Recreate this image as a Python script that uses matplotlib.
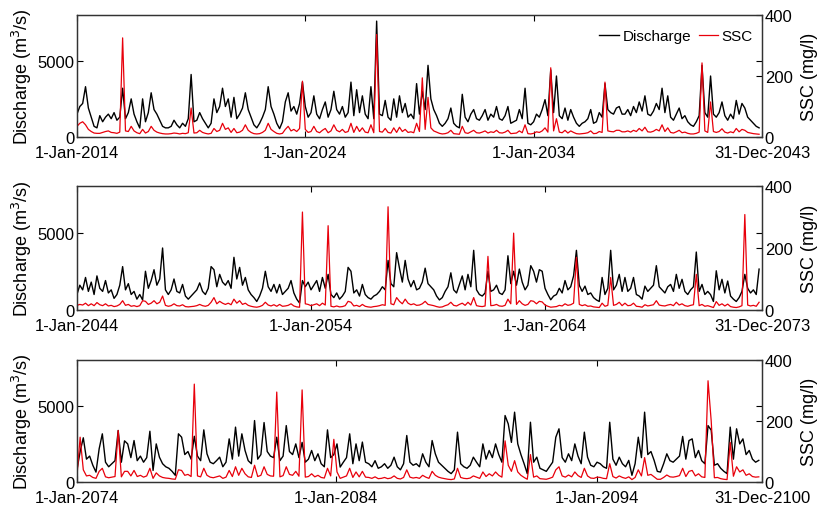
import numpy as np
import matplotlib
matplotlib.use("Agg")
import matplotlib.pyplot as plt

plt.rcParams['font.family'] = ['Liberation Sans', 'DejaVu Sans']

# values, 8 samples per year (rows = years)
# panel 1: 2014-2043
q1 = [[1500, 2000, 2200, 3300, 1900, 1300, 700, 600],
      [1400, 1000, 1300, 1500, 1200, 1600, 1100, 1300],
      [3200, 1200, 1600, 2500, 1500, 1000, 590, 2500],
      [1000, 1600, 2900, 1800, 1500, 1100, 700, 600],
      [600, 700, 1100, 800, 600, 900, 700, 1200],
      [4100, 1000, 1100, 1600, 1200, 900, 600, 900],
      [2500, 1600, 2000, 3200, 2000, 2500, 1300, 2600],
      [1200, 1500, 1900, 2900, 1800, 1300, 800, 600],
      [900, 1300, 1800, 3300, 2000, 1500, 900, 550],
      [1000, 2300, 2900, 1700, 2000, 1500, 2200, 3600],
      [2000, 1300, 1600, 2700, 1500, 1200, 1800, 2300],
      [1300, 1800, 3000, 1800, 1500, 2000, 1300, 1600],
      [3600, 1400, 3100, 1600, 2700, 1500, 1200, 3300],
      [1200, 7600, 1500, 1400, 2400, 1300, 1100, 2500],
      [1300, 2700, 1600, 2200, 1300, 1500, 1200, 3500],
      [1500, 3000, 1800, 4700, 2500, 1800, 1400, 900],
      [700, 900, 1200, 1900, 900, 700, 600, 2800],
      [1300, 1000, 1500, 1800, 1200, 1100, 1400, 1800],
      [1100, 1500, 1300, 2000, 1200, 1100, 1400, 2000],
      [900, 1000, 1100, 1800, 1200, 3200, 900, 800],
      [1000, 1500, 1300, 1800, 2450, 1400, 4400, 1600],
      [4000, 1400, 1200, 1900, 1100, 1800, 1300, 900],
      [700, 900, 1000, 1200, 1800, 900, 1000, 1600],
      [1300, 3500, 1800, 1600, 1500, 1900, 2000, 1500],
      [1500, 1800, 1400, 2000, 1600, 2300, 1700, 2700],
      [1500, 1400, 1700, 2200, 1800, 3200, 1600, 2700],
      [1300, 1100, 1500, 1900, 1200, 1400, 1000, 800],
      [700, 1000, 1400, 4700, 1600, 1300, 4000, 1500],
      [1300, 1600, 2300, 1400, 1100, 1500, 1200, 2400],
      [1500, 2200, 1900, 1300, 1100, 900, 700, 600]]
s1 = [[35, 45, 50, 40, 25, 18, 13, 12],
      [12, 15, 18, 20, 15, 14, 12, 16],
      [325, 20, 18, 35, 20, 14, 11, 25],
      [13, 18, 35, 22, 16, 13, 11, 10],
      [10, 11, 13, 12, 10, 12, 11, 14],
      [95, 13, 14, 22, 15, 12, 10, 12],
      [28, 18, 22, 45, 25, 30, 15, 28],
      [14, 16, 22, 40, 22, 15, 11, 10],
      [11, 15, 22, 45, 25, 18, 12, 10],
      [12, 25, 35, 20, 25, 18, 28, 183],
      [25, 15, 18, 35, 18, 14, 22, 28],
      [14, 20, 40, 22, 17, 25, 15, 18],
      [45, 15, 35, 18, 30, 16, 14, 40],
      [14, 336, 18, 16, 28, 15, 13, 30],
      [15, 32, 18, 25, 15, 17, 14, 45],
      [18, 194, 25, 130, 30, 20, 16, 12],
      [10, 11, 14, 22, 11, 10, 9, 35],
      [14, 12, 17, 22, 14, 13, 16, 20],
      [13, 17, 15, 22, 14, 13, 16, 22],
      [11, 12, 13, 20, 14, 40, 11, 10],
      [12, 17, 15, 20, 30, 16, 227, 20],
      [60, 16, 14, 22, 13, 20, 15, 11],
      [10, 11, 12, 14, 20, 11, 12, 18],
      [15, 180, 20, 18, 17, 22, 22, 17],
      [17, 20, 16, 22, 18, 28, 20, 32],
      [17, 16, 19, 25, 20, 40, 18, 30],
      [15, 13, 17, 22, 14, 16, 12, 10],
      [10, 12, 16, 243, 20, 15, 115, 18],
      [15, 18, 27, 16, 13, 17, 14, 28],
      [17, 25, 22, 15, 13, 11, 10, 9]]

# panel 2: 2044-2073
q2 = [[1000, 1600, 1300, 2100, 1200, 1800, 1000, 2200],
      [1400, 1200, 1900, 1100, 1300, 750, 1000, 1600],
      [2800, 1300, 1700, 1000, 1200, 700, 1000, 650],
      [2500, 1400, 1900, 2600, 1600, 2000, 4000, 1300],
      [1000, 1300, 2000, 1200, 1100, 1650, 900, 700],
      [900, 1100, 1300, 1750, 1200, 1000, 1400, 2800],
      [2600, 1500, 2300, 1800, 1600, 1900, 1400, 3400],
      [2000, 2750, 1600, 2100, 1300, 1000, 800, 550],
      [900, 1400, 2500, 1500, 1200, 1650, 1100, 1650],
      [1000, 1200, 1400, 1900, 1100, 700, 450, 1900],
      [1500, 1800, 1300, 1600, 1900, 1200, 2100, 1400],
      [2300, 1000, 800, 1100, 700, 900, 1200, 2750],
      [2500, 1100, 1300, 900, 1650, 1000, 800, 700],
      [900, 1000, 1200, 1500, 1300, 3200, 1700, 1500],
      [3700, 2700, 1800, 3200, 2000, 1500, 1900, 1300],
      [1400, 1800, 2700, 1700, 1500, 1300, 900, 650],
      [800, 1200, 1500, 2400, 1300, 1100, 1650, 2200],
      [1300, 2300, 1500, 3850, 1300, 1000, 900, 1100],
      [2500, 1200, 1300, 1600, 1100, 1000, 1300, 3500],
      [1700, 2500, 1600, 2640, 1800, 1300, 1600, 2860],
      [2500, 1800, 2600, 2500, 1400, 1000, 660, 900],
      [1000, 1400, 1100, 1900, 1300, 1500, 2200, 3850],
      [1600, 1200, 1540, 1000, 1100, 800, 650, 550],
      [2100, 1000, 1400, 3850, 1300, 1600, 2300, 1200],
      [2100, 1200, 1400, 2100, 1000, 900, 700, 1540],
      [1200, 1400, 1600, 2860, 1500, 1300, 1100, 1500],
      [1650, 1200, 2300, 1400, 1980, 1200, 1000, 1300],
      [1500, 3740, 1200, 1650, 1000, 1200, 990, 550],
      [2530, 1300, 1980, 1100, 1870, 900, 700, 550],
      [800, 1200, 2300, 1400, 1100, 1300, 1000, 2640]]
s2 = [[15, 18, 16, 22, 14, 20, 14, 24],
      [17, 14, 20, 13, 15, 11, 13, 18],
      [30, 15, 18, 12, 14, 11, 14, 30],
      [28, 18, 22, 30, 20, 25, 45, 15],
      [12, 14, 20, 14, 13, 17, 11, 10],
      [11, 12, 14, 18, 14, 12, 15, 25],
      [40, 20, 28, 22, 18, 22, 17, 35],
      [22, 30, 18, 22, 15, 12, 10, 9],
      [11, 15, 25, 16, 13, 17, 12, 18],
      [12, 13, 15, 20, 13, 10, 9, 316],
      [20, 18, 14, 17, 20, 14, 22, 16],
      [272, 12, 10, 13, 10, 11, 14, 28],
      [25, 13, 15, 11, 18, 12, 10, 9],
      [11, 12, 14, 17, 15, 333, 20, 17],
      [40, 28, 20, 35, 22, 17, 20, 15],
      [16, 20, 28, 18, 16, 14, 11, 9],
      [10, 14, 17, 25, 15, 13, 18, 22],
      [15, 25, 16, 40, 14, 12, 11, 13],
      [173, 14, 15, 18, 13, 12, 15, 35],
      [20, 248, 18, 30, 20, 15, 18, 30],
      [28, 20, 28, 26, 16, 12, 9, 10],
      [11, 15, 13, 20, 15, 17, 22, 170],
      [18, 14, 17, 12, 13, 10, 9, 8],
      [22, 12, 15, 105, 15, 18, 25, 14],
      [22, 14, 15, 22, 12, 11, 9, 17],
      [13, 15, 17, 30, 16, 14, 13, 16],
      [18, 14, 25, 16, 20, 14, 12, 15],
      [17, 115, 14, 18, 12, 14, 11, 8],
      [27, 15, 20, 13, 19, 11, 9, 8],
      [10, 14, 308, 16, 13, 15, 12, 25]]

# panel 3: 2074-2100
q3 = [[800, 2000, 2900, 1500, 1700, 1100, 650, 2180],
      [3160, 1300, 1000, 1200, 1400, 3380, 1300, 2700],
      [2500, 1600, 2720, 1400, 1700, 1300, 1600, 3330],
      [760, 2500, 1630, 1200, 1000, 900, 700, 440],
      [3160, 2940, 1800, 2000, 1500, 3000, 1700, 1400],
      [3420, 1850, 1300, 1200, 1400, 1630, 1000, 1300],
      [2830, 1500, 3600, 1700, 3160, 2070, 1400, 1200],
      [4030, 1500, 1800, 3900, 2000, 1700, 1600, 2940],
      [1400, 1700, 3700, 2000, 1800, 2500, 1600, 2600],
      [1300, 1500, 2070, 1400, 1850, 1200, 1000, 3420],
      [1600, 1800, 2500, 980, 1300, 1600, 3160, 1200],
      [2500, 1400, 2620, 1300, 1200, 1000, 1400, 900],
      [1000, 1200, 900, 1100, 1630, 1000, 800, 1200],
      [3050, 1300, 1100, 1200, 1000, 1850, 1300, 1000],
      [2720, 1850, 1300, 1100, 900, 700, 550, 800],
      [3270, 1200, 1000, 900, 1100, 1630, 1300, 1000],
      [2500, 1500, 2070, 1600, 2500, 1800, 1300, 4360],
      [3810, 2600, 4580, 2500, 1800, 1200, 550, 3920],
      [1300, 1630, 900, 800, 700, 1000, 1300, 2940],
      [3490, 1600, 1300, 1850, 1400, 2500, 1700, 1200],
      [3270, 1630, 1100, 1000, 1300, 1200, 1000, 900],
      [3920, 1500, 1100, 1630, 1200, 1000, 1420, 440],
      [1200, 2940, 1600, 4580, 1800, 2000, 1420, 700],
      [650, 1200, 1850, 1400, 1300, 1500, 1700, 2990],
      [1500, 2720, 2830, 1600, 2070, 1400, 1200, 3700],
      [3400, 1100, 1200, 900, 700, 550, 3600, 1500],
      [3490, 2500, 2830, 1800, 2070, 1500, 1300, 1420]]
s3 = [[20, 147, 40, 20, 22, 15, 12, 35],
      [45, 17, 14, 16, 18, 169, 17, 35],
      [35, 20, 38, 18, 22, 16, 20, 45],
      [12, 30, 20, 15, 13, 12, 10, 9],
      [40, 38, 22, 25, 18, 321, 20, 17],
      [45, 22, 16, 14, 17, 20, 12, 16],
      [38, 18, 50, 22, 45, 27, 17, 15],
      [55, 18, 22, 50, 25, 20, 19, 295],
      [17, 21, 50, 25, 22, 35, 19, 302],
      [16, 18, 27, 17, 22, 15, 13, 45],
      [20, 140, 33, 12, 16, 20, 45, 15],
      [33, 17, 35, 16, 15, 12, 17, 11],
      [12, 15, 11, 13, 20, 12, 10, 15],
      [40, 16, 13, 15, 12, 22, 16, 12],
      [35, 22, 16, 13, 11, 9, 8, 10],
      [45, 15, 12, 11, 13, 20, 16, 12],
      [33, 18, 27, 20, 33, 22, 16, 135],
      [55, 35, 70, 33, 22, 15, 9, 90],
      [16, 20, 11, 10, 9, 12, 16, 40],
      [50, 20, 16, 23, 17, 33, 21, 15],
      [45, 20, 13, 12, 16, 15, 12, 11],
      [60, 18, 13, 20, 15, 12, 17, 8],
      [15, 40, 20, 80, 22, 25, 17, 9],
      [9, 15, 23, 17, 16, 18, 21, 45],
      [18, 35, 38, 20, 27, 17, 15, 332],
      [200, 14, 15, 11, 9, 8, 130, 19],
      [50, 33, 40, 22, 27, 18, 16, 17]]

tick_labels1 = ['1-Jan-2014', '1-Jan-2024', '1-Jan-2034', '31-Dec-2043']
tick_labels2 = ['1-Jan-2044', '1-Jan-2054', '1-Jan-2064', '31-Dec-2073']
tick_labels3 = ['1-Jan-2074', '1-Jan-2084', '1-Jan-2094', '31-Dec-2100']

panels = [(q1, s1, tick_labels1, [0, 10, 20, 30]),
          (q2, s2, tick_labels2, [0, 10.25, 20.5, 30]),
          (q3, s3, tick_labels3, [0, 10.2, 20.5, 27])]

fig = plt.figure(figsize=(8.32, 5.10), dpi=100)
boxes = [[0.0925, 0.7294, 0.8233, 0.2392],
         [0.0925, 0.3902, 0.8233, 0.2431],
         [0.0925, 0.0529, 0.8233, 0.2392]]

for i, (q, s, labs, ticks) in enumerate(panels):
    q = np.ravel(q)
    s = np.ravel(s)
    nyr = len(q) / 8
    x = np.arange(len(q)) / 8
    ax = fig.add_axes(boxes[i])
    ax2 = ax.twinx()
    l1, = ax.plot(x, q, color='black', lw=1.0)
    l2, = ax2.plot(x, s, color='#e8000b', lw=0.9)
    ax.set_xlim(0, nyr)
    ax.set_ylim(0, 8000)
    ax2.set_ylim(0, 400)
    ax.set_yticks([0, 5000])
    ax2.set_yticks([0, 200, 400])
    ax.set_xticks(ticks)
    ax.set_xticklabels(labs)
    ax.tick_params(direction='in', length=4, labelsize=12, top=True, right=True, pad=2)
    ax.tick_params(axis='x', pad=6)
    ax2.tick_params(direction='in', length=4, labelsize=12, pad=2)
    ax.set_ylabel('Discharge (m$^3$/s)', fontsize=13, labelpad=2)
    ax2.set_ylabel('SSC (mg/l)', fontsize=13, labelpad=6)
    for a in (ax, ax2):
        for sp in a.spines.values():
            sp.set_color('#333333')
            sp.set_linewidth(0.9)
    if i == 0:
        ax2.legend([l1, l2], ['Discharge', 'SSC'], loc='upper right', ncol=2,
                   frameon=False, fontsize=11, handlelength=1.3,
                   handletextpad=0.2, columnspacing=0.5,
                   bbox_to_anchor=(1.0, 0.96), borderaxespad=0.2)

fig.savefig('out.png', dpi=100)
